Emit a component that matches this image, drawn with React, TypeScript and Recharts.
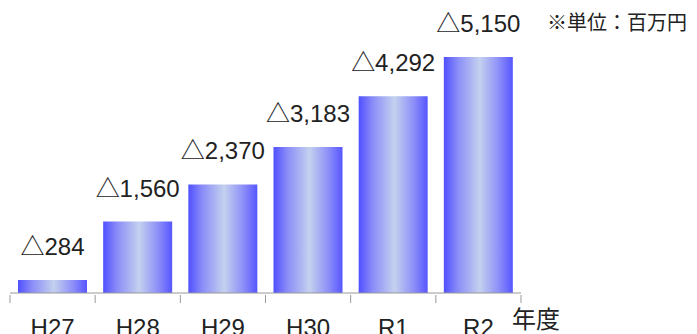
import React from "react";
import { BarChart, Bar, XAxis, YAxis, LabelList } from "recharts";

const years = ["H27", "H28", "H29", "H30", "R1", "R2"];
const deficits = [284, 1560, 2370, 3183, 4292, 5150];
const yTicks = [0, 6000];

const data = years.map((y, i) => ({ year: y, value: deficits[i] }));

const FONT = "'Liberation Sans', Arial, 'Noto Sans CJK JP', sans-serif";
const W = 697;
const H = 334;
const M = { top: 18, right: 176, left: 10, bottom: 0 };
const band = (W - M.left - M.right) / years.length;

function YearTick(props: any) {
  const { x, y, payload, index } = props;
  const last = index === years.length - 1;
  return (
    <g>
      <line x1={x - band / 2} y1={y - 8} x2={x - band / 2} y2={y} stroke="#999" />
      {last ? <line x1={x + band / 2} y1={y - 8} x2={x + band / 2} y2={y} stroke="#999" /> : null}
      <text x={x} y={y + 16} dy="0.71em" textAnchor="middle" fontSize={24} fill="#222" fontFamily={FONT}>
        {payload.value}
      </text>
      {last ? (
        <text x={x + band / 2 - 9} y={y + 25} fontSize={24} fill="#222" fontFamily="'Noto Sans CJK JP', sans-serif">
          年度
        </text>
      ) : null}
    </g>
  );
}

function ValueLabel(props: any) {
  const { x, y, width, value } = props;
  return (
    <text x={x + width / 2} y={y - 25} textAnchor="middle" fontSize={24} fill="#222" fontFamily={FONT}>
      {"△" + Number(value).toLocaleString("en-US")}
    </text>
  );
}

export default function App() {
  return (
    <div style={{ position: "absolute", left: 0, top: 0, width: W, height: H, background: "#fff" }}>
      <BarChart width={W} height={H} data={data} margin={M}>
        <defs>
          <linearGradient id="barGrad" x1="0" y1="0" x2="1" y2="0">
            <stop offset="0%" stopColor="#5050ff" />
            <stop offset="20%" stopColor="#8a8cf8" />
            <stop offset="52%" stopColor="#c4d1ee" />
            <stop offset="80%" stopColor="#8c8ef8" />
            <stop offset="100%" stopColor="#5656ff" />
          </linearGradient>
        </defs>
        <XAxis
          dataKey="year"
          height={41}
          stroke="#999"
          tickLine={false}
          tickSize={8}
          tick={<YearTick />}
          interval={0}
        />
        <YAxis hide domain={[0, 6000]} ticks={yTicks} />
        <Bar dataKey="value" fill="url(#barGrad)" barSize={69} isAnimationActive={false}>
          <LabelList dataKey="value" content={<ValueLabel />} />
        </Bar>
      </BarChart>
      <div
        style={{
          position: "absolute",
          left: 547,
          top: 12,
          fontSize: 20,
          lineHeight: "20px",
          color: "#222",
          fontFamily: "'Noto Sans CJK JP', sans-serif",
          whiteSpace: "nowrap",
        }}
      >
        ※単位：百万円
      </div>
    </div>
  );
}
